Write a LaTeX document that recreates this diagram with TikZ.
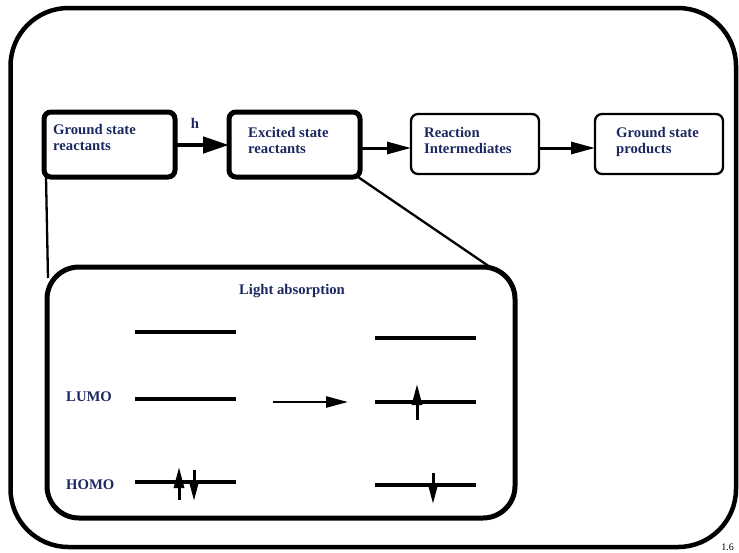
\documentclass[tikz,border=0pt]{standalone}
\usepackage{fontspec}
\setmainfont{Liberation Serif}
\usetikzlibrary{arrows.meta}
\definecolor{navy}{RGB}{28,40,95}
\begin{document}
\begin{tikzpicture}[x=1pt,y=-1pt,
  lbl/.style={text=navy,font=\bfseries\fontsize{14.7pt}{16.5pt}\selectfont,align=left,inner sep=0pt},
  thickbox/.style={draw,line width=5pt,rounded corners=7pt},
  thinbox/.style={draw,line width=2.3pt,rounded corners=7pt},
  level/.style={line width=3.8pt},
  spin/.style={line width=3pt,-{Triangle[width=10pt,length=21pt]}},
  flow/.style={line width=3pt,-{Triangle[width=12pt,length=24pt]}}]
\useasboundingbox (0,0) rectangle (739,552);
\draw[line width=4.5pt,rounded corners=58pt] (10.5,8) rectangle (736,547);
% flow boxes
\draw[thickbox] (44,112) rectangle (175,177);
\coordinate (gsbl) at (46,177);
\node[lbl,anchor=north west] (gs) at (53,124) {Ground state\\reactants};
\draw[thickbox] (229,112) rectangle (360,177);
\coordinate (esbr) at (358,177);
\node[lbl,anchor=north west] (es) at (248,127) {Excited state\\reactants};
\draw[thinbox] (411,114) rectangle (539,174);
\node[lbl,anchor=north west] (ri) at (424,127) {Reaction\\Intermediates};
\draw[thinbox] (595,114) rectangle (723,174);
\node[lbl,anchor=north west] (gp) at (616,127) {Ground state\\products};
\coordinate (a1s) at (175,145); \coordinate (a1e) at (229,145);
\draw[line width=4.5pt,-{Triangle[width=16pt,length=26pt]}] (a1s) -- (a1e);
\node[lbl] (h) at (195,123) {h};
\coordinate (a2s) at (360,148); \coordinate (a2e) at (411,148);
\draw[flow] (a2s) -- (a2e);
\coordinate (a3s) at (539,148); \coordinate (a3e) at (595,148);
\draw[flow] (a3s) -- (a3e);
% inner box
\draw[line width=5pt,rounded corners=32pt] (47,267) rectangle (515,518);
\coordinate (ibl) at (48,278);
\coordinate (ibr) at (490,267);
\draw[line width=2.3pt] (gsbl) -- (ibl);
\draw[line width=2.3pt] (esbr) -- (ibr);
\node[lbl] (la) at (292,291) {Light absorption};
\node[lbl,anchor=west] (lumo) at (66,397) {LUMO};
\node[lbl,anchor=west] (homo) at (66,485) {HOMO};
% levels
\draw[level] (135,332) -- (236,332);
\draw[level] (135,399) -- (236,399);
\draw[level] (135,482) -- (236,482);
\draw[level] (375,338) -- (476,338);
\draw[level] (375,402) -- (476,402);
\draw[level] (375,485) -- (476,485);
% transition arrow
\coordinate (ts) at (273,402); \coordinate (te) at (348,402);
\draw[line width=2.5pt,-{Triangle[width=11pt,length=22pt]}] (ts) -- (te);
% spins
\coordinate (s1a) at (179,500); \coordinate (s1b) at (179,467);
\draw[spin] (s1a) -- (s1b);
\coordinate (s2a) at (194,470); \coordinate (s2b) at (194,501);
\draw[spin] (s2a) -- (s2b);
\coordinate (s3a) at (417,420); \coordinate (s3b) at (417,384);
\draw[spin] (s3a) -- (s3b);
\coordinate (s4a) at (433,473); \coordinate (s4b) at (433,504);
\draw[spin] (s4a) -- (s4b);
\node[font=\fontsize{10pt}{11pt}\selectfont,anchor=south east,inner sep=1pt] (pg) at (735,552) {1.6};
\end{tikzpicture}
\end{document}
